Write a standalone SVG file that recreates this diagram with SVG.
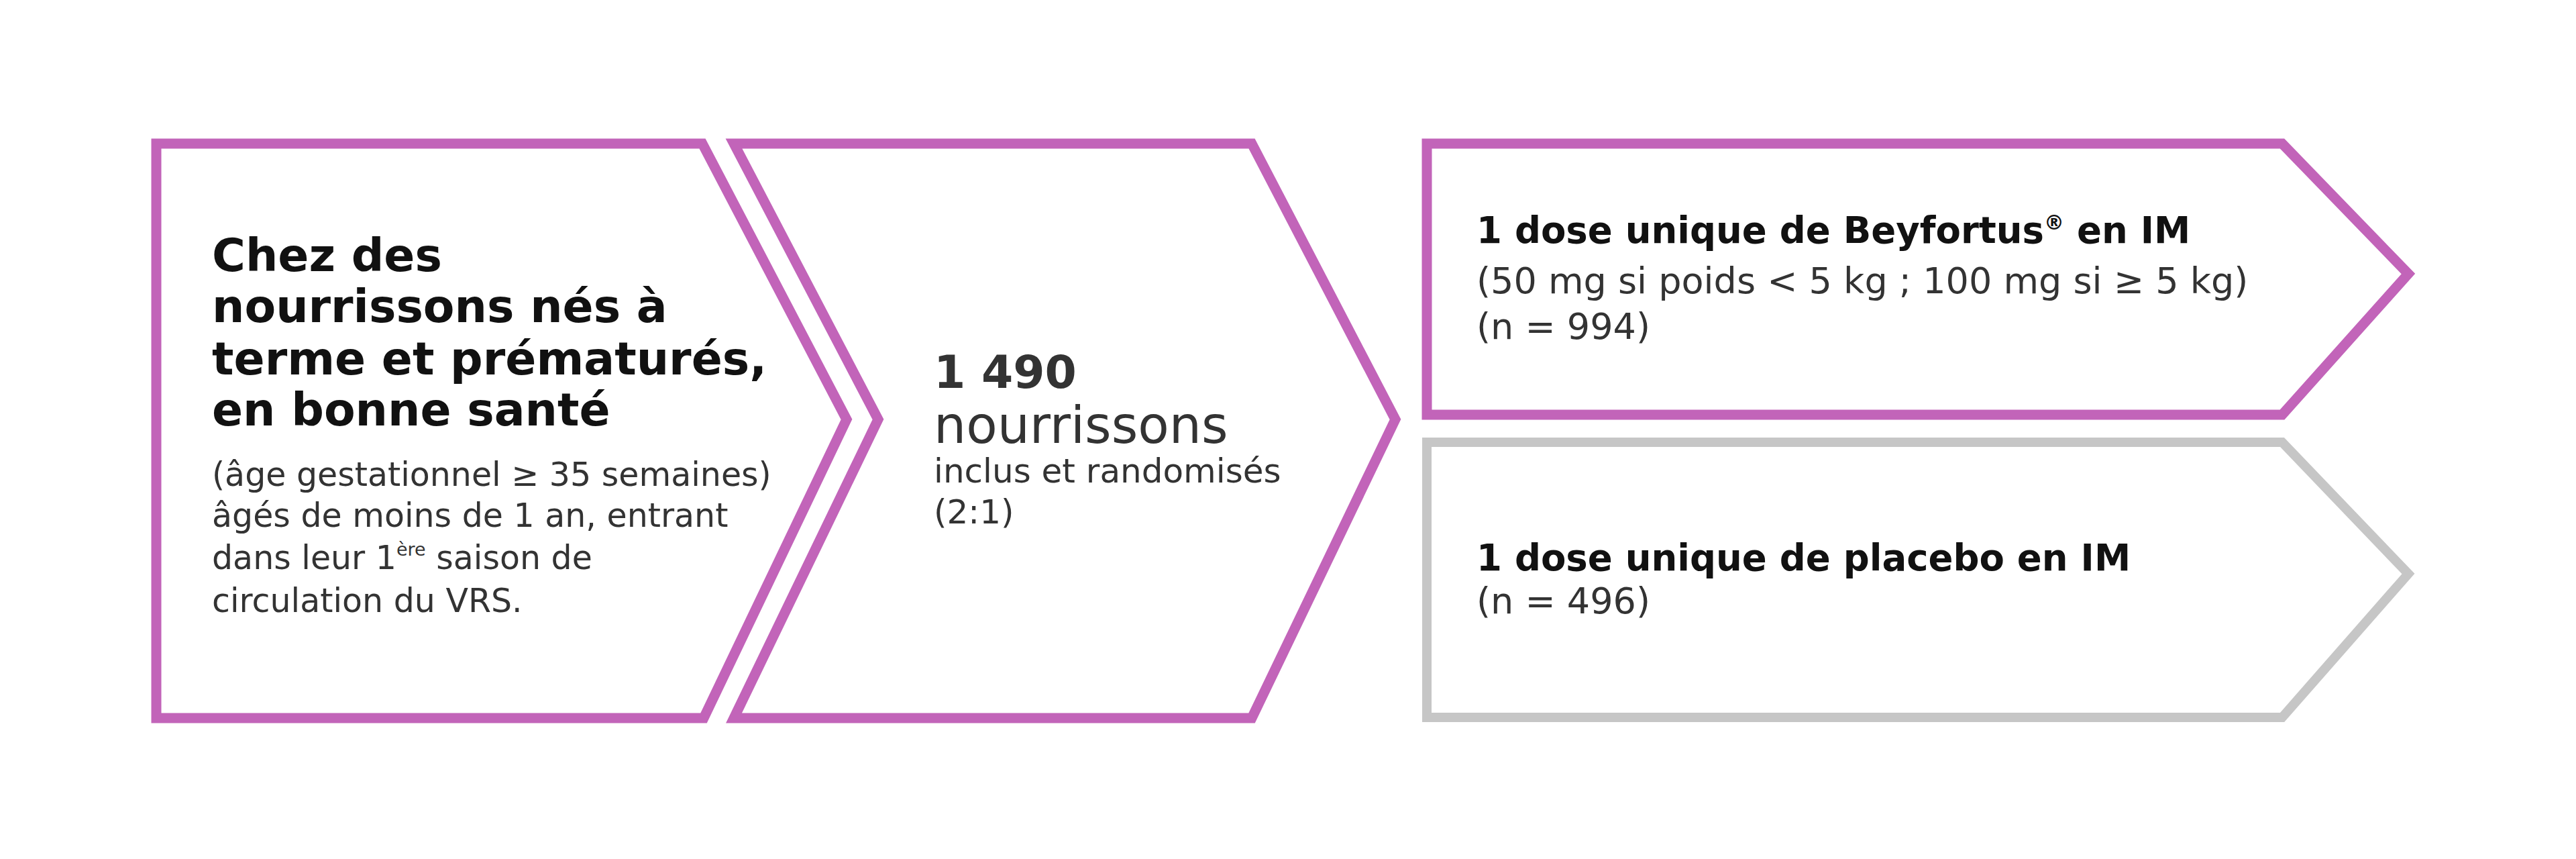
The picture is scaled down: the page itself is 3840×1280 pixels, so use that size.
<svg xmlns="http://www.w3.org/2000/svg" width="3840" height="1280" viewBox="0 0 3840 1280">
<style>
.bg{fill:#ffffff}
.pk{fill:#ffffff;stroke:#C264B9;stroke-width:15;stroke-linejoin:miter}
.gy{fill:#ffffff;stroke:#C6C6C6;stroke-width:14;stroke-linejoin:miter}
text{font-family:"DejaVu Sans","Liberation Sans",sans-serif}
.h{font-weight:bold;fill:#111111}
.s{fill:#333333}
.num{font-weight:bold;fill:#333333}
.sup{font-size:0.55em}
</style>
<rect class="bg" x="0" y="0" width="3840" height="1280"/>
<g id="connectors"></g>
<g id="node-inclusion">
<path class="pk" d="M233,214 L1047,214 L1262,625 L1049,1070 L233,1070 Z"/>
<text class="h" font-size="68"><tspan x="316" y="404">Chez des</tspan><tspan x="316" y="480">nourrissons nés à</tspan><tspan x="316" y="558">terme et prématurés,</tspan><tspan x="316" y="634">en bonne santé</tspan></text>
<text class="s" font-size="49"><tspan x="316" y="724">(âge gestationnel ≥ 35 semaines)</tspan><tspan x="316" y="785">âgés de moins de 1 an, entrant</tspan><tspan x="316" y="848">dans leur 1<tspan class="sup" dy="-20">ère</tspan><tspan dy="20"> saison de</tspan></tspan><tspan x="316" y="912">circulation du VRS.</tspan></text>
</g>
<g id="node-randomisation">
<path class="pk" d="M1094,214 L1866,214 L2080,625 L1866,1070 L1094,1070 L1309,625 Z"/>
<text class="num" font-size="68" x="1392" y="578">1 490</text>
<text class="s" font-size="76" x="1392" y="660">nourrissons</text>
<text class="s" font-size="50"><tspan x="1392" y="719">inclus et randomisés</tspan><tspan x="1392" y="780">(2:1)</tspan></text>
</g>
<g id="node-beyfortus">
<path class="pk" d="M2127,214 L3402,214 L3590,408 L3402,618 L2127,618 Z"/>
<text class="h" font-size="54.5" x="2201" y="362">1 dose unique de Beyfortus<tspan class="sup" dy="-20">®</tspan><tspan dy="20"> en IM</tspan></text>
<text class="s" font-size="54"><tspan x="2201" y="437">(50 mg si poids &lt; 5 kg ; 100 mg si ≥ 5 kg)</tspan><tspan x="2201" y="505">(n = 994)</tspan></text>
</g>
<g id="node-placebo">
<path class="gy" d="M2127,659 L3402,659 L3590,855 L3402,1069 L2127,1069 Z"/>
<text class="h" font-size="54.5" x="2201" y="850">1 dose unique de placebo en IM</text>
<text class="s" font-size="54" x="2201" y="914">(n = 496)</text>
</g>
</svg>
